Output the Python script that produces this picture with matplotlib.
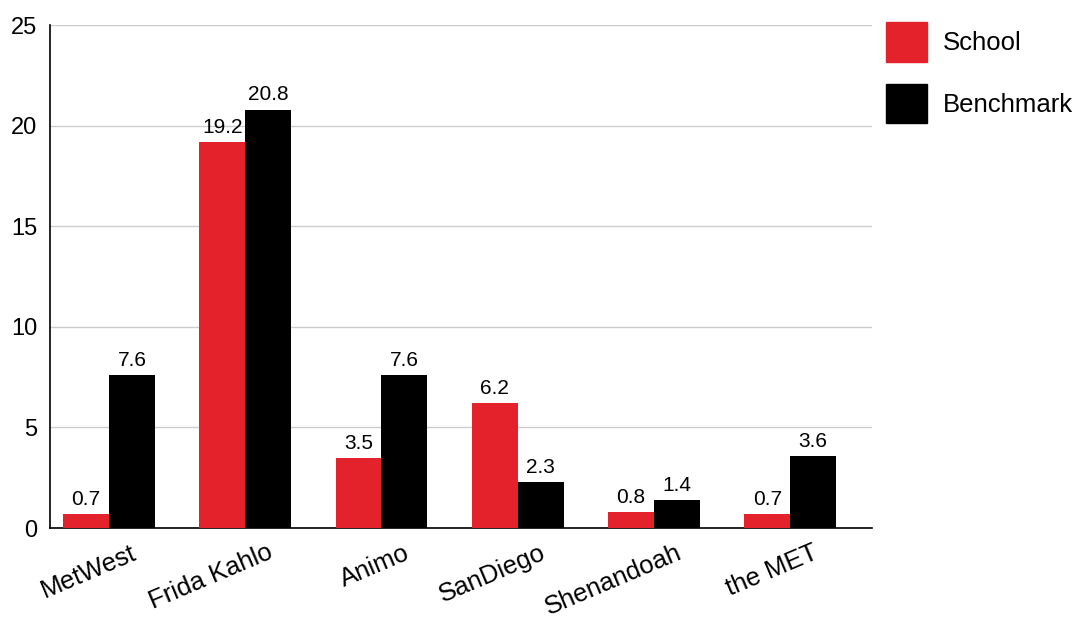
import numpy as np
import matplotlib.pyplot as plt
import matplotlib.transforms as mtransforms
from matplotlib.patches import Patch

categories = ["MetWest", "Frida Kahlo", "Animo", "SanDiego", "Shenandoah", "the MET"]
school = [0.7, 19.2, 3.5, 6.2, 0.8, 0.7]
benchmark = [7.6, 20.8, 7.6, 2.3, 1.4, 3.6]

red = "#e3222b"
plt.rcParams["font.family"] = ["Liberation Sans", "DejaVu Sans"]

fig = plt.figure(figsize=(10.84, 6.19), dpi=100)
ax = fig.add_axes([0.0461, 0.147, 0.7583, 0.8126])

x = np.arange(len(categories))
w = 0.337
b1 = ax.bar(x - w / 2, school, w, color=red, zorder=3)
b2 = ax.bar(x + w / 2, benchmark, w, color="black", zorder=3)

for bars in (b1, b2):
    for r in bars:
        h = r.get_height()
        ax.annotate(f"{h:.1f}", (r.get_x() + r.get_width() / 2, h),
                    xytext=(0, 6.5), textcoords="offset points",
                    ha="center", va="baseline", fontsize=15)

ax.set_xlim(-0.433, 5.6)
ax.set_ylim(0, 25)
ax.set_yticks([0, 5, 10, 15, 20, 25])
ax.yaxis.grid(True, color="#cccccc", linewidth=1, zorder=0)
ax.set_axisbelow(True)
ax.tick_params(axis="both", length=0)
ax.tick_params(axis="y", pad=9, labelsize=17)
ax.set_xticks(x)
ax.set_xticklabels(categories, rotation=23, ha="right", rotation_mode="anchor",
                   fontsize=18.5)
ax.tick_params(axis="x", pad=9)
shift = mtransforms.ScaledTranslation(0.22, 0, fig.dpi_scale_trans)
for lab in ax.get_xticklabels():
    lab.set_transform(lab.get_transform() + shift)
for s in ("top", "right"):
    ax.spines[s].set_visible(False)
ax.spines["left"].set_linewidth(1.2)
ax.spines["bottom"].set_linewidth(1.2)

handles = [Patch(color=red, label="School"), Patch(color="black", label="Benchmark")]
fig.legend(handles=handles, loc="upper left", bbox_to_anchor=(886 / 1084, 1 - 22 / 619),
           frameon=False, fontsize=18.5, handlelength=1.6, handleheight=2.0,
           labelspacing=0.85, handletextpad=0.62, borderpad=0, borderaxespad=0)

fig.savefig("out.png", dpi=100)
